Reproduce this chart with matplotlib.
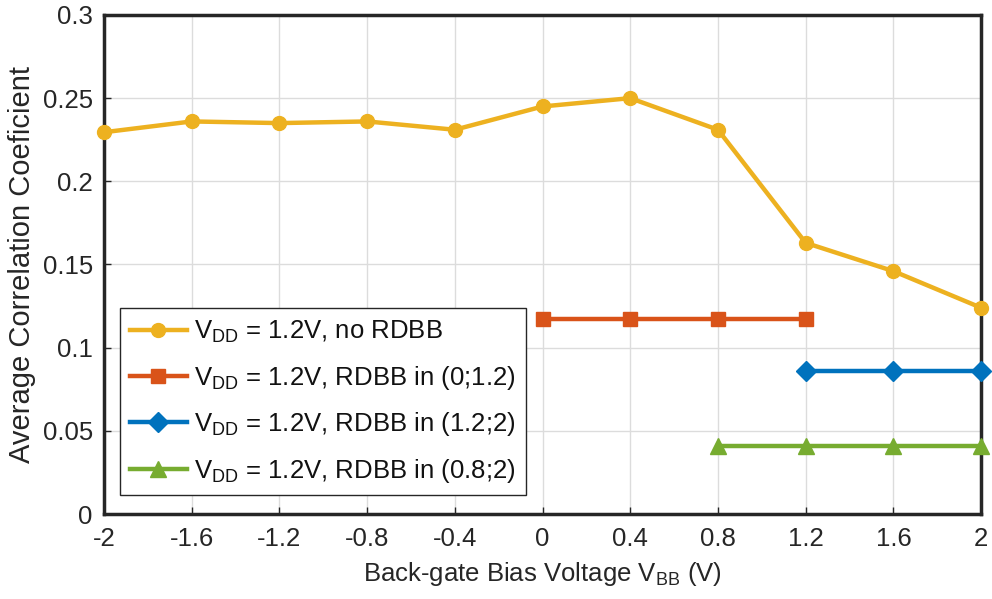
import matplotlib
matplotlib.use("Agg")
import matplotlib.pyplot as plt

plt.rcParams['font.family'] = ['Liberation Sans', 'DejaVu Sans']
plt.rcParams['mathtext.fontset'] = 'custom'
plt.rcParams['mathtext.rm'] = 'Liberation Sans'

x_all = [-2, -1.6, -1.2, -0.8, -0.4, 0, 0.4, 0.8, 1.2, 1.6, 2]
y_none = [0.2295, 0.236, 0.235, 0.236, 0.231, 0.245, 0.250, 0.231, 0.163, 0.146, 0.124]
x_a = [0, 0.4, 0.8, 1.2]
y_a = [0.117, 0.117, 0.117, 0.117]
x_b = [1.2, 1.6, 2]
y_b = [0.086, 0.086, 0.086]
x_c = [0.8, 1.2, 1.6, 2]
y_c = [0.041, 0.041, 0.041, 0.041]

labels = [r'V$_{\mathregular{DD}}$ = 1.2V, no RDBB',
          r'V$_{\mathregular{DD}}$ = 1.2V, RDBB in (0;1.2)',
          r'V$_{\mathregular{DD}}$ = 1.2V, RDBB in (1.2;2)',
          r'V$_{\mathregular{DD}}$ = 1.2V, RDBB in (0.8;2)']
xticks = [-2, -1.6, -1.2, -0.8, -0.4, 0, 0.4, 0.8, 1.2, 1.6, 2]
xticklabels = ['-2', '-1.6', '-1.2', '-0.8', '-0.4', '0', '0.4', '0.8', '1.2', '1.6', '2']
yticks = [0, 0.05, 0.1, 0.15, 0.2, 0.25, 0.3]
yticklabels = ['0', '0.05', '0.1', '0.15', '0.2', '0.25', '0.3']

fig = plt.figure(figsize=(9.92, 5.99), dpi=100)
ax = fig.add_axes([0.1048, 0.1419, 0.8842, 0.8331])

lw = 3.2
ax.plot(x_all, y_none, '-o', color='#EDB120', lw=lw, ms=10, clip_on=False, zorder=3, label=labels[0])
ax.plot(x_a, y_a, '-s', color='#D95319', lw=lw, ms=10, clip_on=False, zorder=3, label=labels[1])
ax.plot(x_b, y_b, '-D', color='#0072BD', lw=lw, ms=10, clip_on=False, zorder=3, label=labels[2])
ax.plot(x_c, y_c, '-^', color='#77AC30', lw=lw, ms=12, clip_on=False, zorder=3, label=labels[3])

ax.set_xlim(-2, 2)
ax.set_ylim(0, 0.3)
ax.set_xticks(xticks)
ax.set_xticklabels(xticklabels)
ax.set_yticks(yticks)
ax.set_yticklabels(yticklabels)
ax.grid(True, color='#dcdcdc', lw=1)
ax.set_axisbelow(True)
ax.tick_params(direction='in', labelsize=18.5, colors='#262626', length=5, width=1)
ax.tick_params(axis='x', pad=9)
ax.tick_params(axis='y', pad=8)
for s in ax.spines.values():
    s.set_linewidth(2.5)
    s.set_color('#262626')

ax.set_xlabel(r'Back-gate Bias Voltage V$_{\mathregular{BB}}$ (V)', fontsize=18.5, color='#262626', labelpad=7)
ax.set_ylabel('Average Correlation Coeficient', fontsize=21, color='#262626', labelpad=5)

leg = ax.legend(loc='lower left', bbox_to_anchor=(0.018, 0.038), fontsize=18.5, frameon=True,
                fancybox=False, edgecolor='#262626', framealpha=1, handlelength=2.2,
                handletextpad=0.3, borderpad=0.4, labelspacing=0.72, borderaxespad=0)
leg.get_frame().set_linewidth(1)
for t in leg.get_texts():
    t.set_color('#111111')

fig.savefig('out.png', dpi=100)
